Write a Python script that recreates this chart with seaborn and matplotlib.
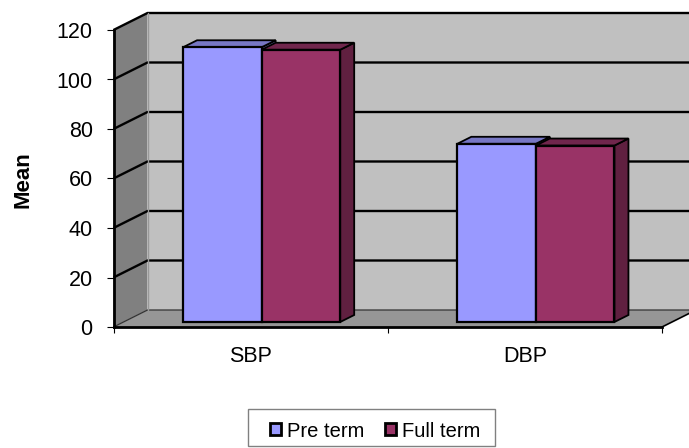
import pandas as pd
import matplotlib
matplotlib.use('Agg')
import matplotlib.pyplot as plt
from matplotlib.patches import Polygon, Rectangle
from matplotlib.transforms import Affine2D, IdentityTransform
import seaborn as sns

# Values
categories = ['SBP', 'DBP']
pre_term = [111, 72]
full_term = [110, 71.3]
series_names = ['Pre term', 'Full term']
y_ticks = [0, 20, 40, 60, 80, 100, 120]

W, H = 689, 448
LEFT, RIGHT, BOTTOM, TOP = 113.5, 662, 327, 30   # front plane, pixels from top left
DEPTH = (34, 17)      # wall depth, pixels
BAR_SHIFT = (11, 5)   # bars stand a bit inside the floor
BAR_DEPTH = (14, 7)

df = pd.DataFrame({
    'cat': categories * 2,
    'series': [series_names[0]] * 2 + [series_names[1]] * 2,
    'value': pre_term + full_term,
})

sns.set_theme(style='white')
plt.rcParams['font.family'] = ['Liberation Sans', 'DejaVu Sans']

fig = plt.figure(figsize=(W / 100, H / 100), dpi=100, facecolor='white')

# background axes in top-left pixel coordinates, for the chart box
bg = fig.add_axes([0, 0, 1, 1], zorder=0)
bg.set_xlim(0, W)
bg.set_ylim(H, 0)
bg.axis('off')

dx, dy = DEPTH
bg.add_patch(Polygon([(LEFT + dx, BOTTOM - dy), (RIGHT + dx, BOTTOM - dy), (RIGHT + dx, TOP - dy), (LEFT + dx, TOP - dy)],
                     fc='#C0C0C0', ec='none'))
bg.add_patch(Polygon([(LEFT, BOTTOM), (LEFT + dx, BOTTOM - dy), (LEFT + dx, TOP - dy), (LEFT, TOP)],
                     fc='#808080', ec='none'))
bg.add_patch(Polygon([(LEFT, BOTTOM), (RIGHT, BOTTOM), (RIGHT + dx, BOTTOM - dy), (LEFT + dx, BOTTOM - dy)],
                     fc='#969696', ec='none'))

# gridlines run along the left wall and then the back wall
for t in y_ticks:
    y = BOTTOM - (BOTTOM - TOP) * t / max(y_ticks)
    lw = 0.9 if t == 0 else 1.7
    col = '#333333' if t == 0 else 'black'
    bg.plot([LEFT, LEFT + dx, RIGHT + dx], [y, y - dy, y - dy], color=col, lw=lw, solid_capstyle='butt')
bg.plot([LEFT + dx, LEFT + dx], [BOTTOM - dy, TOP - dy], color='#999999', lw=1)
bg.plot([RIGHT, RIGHT + dx], [BOTTOM, BOTTOM - dy], color='black', lw=1.2)

# legend frame, the text sits in a frameless legend below
bg.add_patch(Rectangle((248, 409), 247, 37, fc='white', ec='#808080', lw=1))

# front plane axes holds the real scales, ticks and bars
ax = fig.add_axes([LEFT / W, 1 - BOTTOM / H, (RIGHT - LEFT) / W, (BOTTOM - TOP) / H], zorder=1)
ax.patch.set_alpha(0)

palette = ['#9999FF', '#993366']
sns.barplot(data=df, x='cat', y='value', hue='series', hue_order=series_names, palette=palette,
            width=0.573, gap=0, saturation=1, edgecolor='black', linewidth=1.6, ax=ax, legend=False)
ax.set_xlim(-0.5, 1.5)
ax.set_ylim(0, 120)
ax.set_yticks(y_ticks)
ax.set_xticks([-0.5, 0.5, 1.5], minor=False)
ax.set_xticklabels([])
ax.set_xticks([0, 1], minor=True)
ax.set_xticklabels(categories, minor=True, fontsize=15.5, color='black')
ax.tick_params(axis='x', which='major', length=4.5, width=0.8, color='black', bottom=True)
ax.tick_params(axis='x', which='minor', length=0, pad=13.5, bottom=True)
ax.tick_params(axis='y', length=5, width=0.8, color='black', left=True, labelsize=15.5, labelcolor='black', pad=10)
ax.set_xlabel('')
ax.set_ylabel('Mean', fontsize=16, fontweight='bold', color='black')
ax.yaxis.set_label_coords((33.5 - LEFT) / (RIGHT - LEFT), (BOTTOM - 180) / (BOTTOM - TOP))
for side in ['top', 'right']:
    ax.spines[side].set_visible(False)
for side in ['left', 'bottom']:
    ax.spines[side].set_color('black')
    ax.spines[side].set_linewidth(2)

# shift bars into the floor and add their side and top faces
side_colors = ['#7373BF', '#602040']
top_colors = ['#7777C4', '#70264C']
px = IdentityTransform()
bdx, bdy = BAR_DEPTH
bars = sorted(ax.patches, key=lambda p: p.get_x())  # left to right so the overlaps stack correctly
for i, bar in enumerate(bars):
    box = bar.get_window_extent()
    x0, x1 = box.x0 + BAR_SHIFT[0], box.x1 + BAR_SHIFT[0]
    y0, y1 = box.y0 + BAR_SHIFT[1], box.y1 + BAR_SHIFT[1]
    idx = i % 2
    z = 3 + i * 0.1
    bar.set_transform(ax.transData + Affine2D().translate(*BAR_SHIFT))
    bar.set_clip_on(False)
    bar.set_zorder(z + 0.05)
    ax.add_patch(Polygon([(x1, y0), (x1 + bdx, y0 + bdy), (x1 + bdx, y1 + bdy), (x1, y1)], transform=px,
                         fc=side_colors[idx], ec='black', lw=1.3, zorder=z, clip_on=False))
    ax.add_patch(Polygon([(x0, y1), (x0 + bdx, y1 + bdy), (x1 + bdx, y1 + bdy), (x1, y1)], transform=px,
                         fc=top_colors[idx], ec='black', lw=1.3, zorder=z, clip_on=False))

# legend entries
handles = [plt.Rectangle((0, 0), 1, 1, fc=c, ec='black', lw=2) for c in palette]
leg = fig.legend(handles, series_names, ncol=2, loc='center', bbox_to_anchor=(375 / W, 1 - 431 / H),
                 frameon=False, fontsize=14.5, handlelength=0.55, handleheight=0.55,
                 handletextpad=0.3, columnspacing=1.0, labelcolor='black')

fig.savefig('out.png', dpi=100, facecolor='white')
